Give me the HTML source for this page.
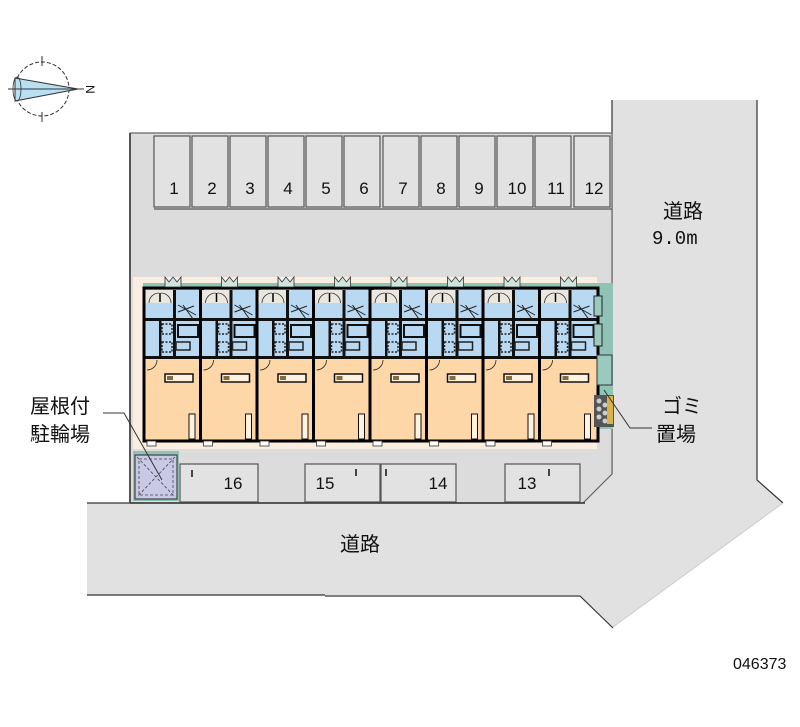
<!DOCTYPE html>
<html><head><meta charset="utf-8"><style>
html,body{margin:0;padding:0;background:#fff;width:800px;height:727px;overflow:hidden}
svg{display:block}
text{font-family:"Liberation Sans","Noto Sans CJK JP",sans-serif}
</style></head><body>
<svg width="800" height="727" viewBox="0 0 800 727" xmlns="http://www.w3.org/2000/svg">
<defs>
<g id="u">
  <rect x="0" y="290" width="56.5" height="150" fill="#fdd7a8"/>
  <rect x="0" y="290" width="56.5" height="13" fill="#eae6e0"/>
  <rect x="0" y="303" width="56.5" height="55" fill="#b9d9f2"/>
  <rect x="30" y="290" width="26.5" height="13" fill="#b9d9f2"/>
  <path d="M4 303 A10 10 0 0 1 14 293 M26 303 A10 10 0 0 0 16 293" fill="none" stroke="#333" stroke-width="0.8"/>
  <line x1="15" y1="293" x2="15" y2="302" stroke="#000" stroke-width="1.5"/>
  <rect x="0" y="318" width="56.5" height="3" fill="#111"/>
  <rect x="28" y="290" width="3" height="68" fill="#111"/>
  <rect x="0" y="356" width="56.5" height="3" fill="#111"/>
  <rect x="14" y="321" width="2.5" height="35" fill="#111"/>
  <path d="M33 305 l18 10 M33 312 l16 -6 M38 305 l10 14" stroke="#222" stroke-width="1" fill="none"/>
  <rect x="33" y="325" width="20" height="12" fill="none" stroke="#111" stroke-width="2"/>
  <rect x="17" y="324" width="10" height="10" fill="none" stroke="#222" stroke-width="1.5" stroke-dasharray="2 1.5"/>
  <rect x="17" y="342" width="10" height="10" fill="none" stroke="#222" stroke-width="1.5" stroke-dasharray="2 1.5"/>
  <rect x="31" y="342" width="14" height="8" fill="none" stroke="#222" stroke-width="1.5"/>
  <path d="M2 370 A10 10 0 0 0 12 360" fill="none" stroke="#222" stroke-width="0.8"/>
  <rect x="20" y="374" width="28" height="8" fill="#fff3e0" stroke="#111" stroke-width="1.5"/>
  <rect x="22" y="376" width="6" height="4" fill="#8a6a3a"/>
  <rect x="44" y="414" width="6" height="25" fill="#fff3e0" stroke="#111" stroke-width="1"/>
  <rect x="-1" y="288" width="58.5" height="153" fill="none" stroke="#000" stroke-width="3"/>
  <rect x="2" y="441" width="9" height="5" fill="#fff" stroke="#333" stroke-width="0.8"/>
  <path d="M20 277 l0 10 l16 0 l0 -10 l-4 5 l-4 -5 l-4 5 z" fill="#cfe6e0" stroke="#333" stroke-width="0.8"/>
</g>
</defs>

<polygon points="612,100 757,100 757,480 783,503 613,627 580,595 87,595 87,503 583,503 612,474" fill="#e1e1e1"/>
<path d="M612,100 L612,474 M757,100 L757,480 L783,503 M87,503 L130,503 M87,595 L325,595 M325,596 L580,596 L613,628" fill="none" stroke="#333" stroke-width="1.2"/>
<path d="M783,503 L613,627" stroke="#ccc" stroke-width="1"/>

<polygon points="130,133 612,133 612,474 583,503 130,503" fill="#dcdcdc" stroke="#666" stroke-width="1.2"/>
<line x1="130" y1="133" x2="130" y2="503" stroke="#555" stroke-width="2"/>
<line x1="130" y1="503" x2="585" y2="503" stroke="#333" stroke-width="1.5"/>
<rect x="133" y="277" width="464" height="172" fill="#fbeee0"/>

<g fill="#e2e2e2" stroke="#555" stroke-width="1.2">
<rect x="154" y="136" width="36" height="71"/><rect x="192" y="136" width="36" height="71"/><rect x="230" y="136" width="36" height="71"/><rect x="268" y="136" width="36" height="71"/><rect x="306" y="136" width="36" height="71"/><rect x="344" y="136" width="36" height="71"/><rect x="383" y="136" width="36" height="71"/><rect x="421" y="136" width="36" height="71"/><rect x="459" y="136" width="36" height="71"/><rect x="497" y="136" width="36" height="71"/><rect x="535" y="136" width="36" height="71"/><rect x="574" y="136" width="36" height="71"/>
</g>
<line x1="154" y1="209" x2="612" y2="209" stroke="#555" stroke-width="1.2"/>
<g font-size="17" fill="#111" text-anchor="middle">
<text x="174" y="194">1</text><text x="212" y="194">2</text><text x="250" y="194">3</text><text x="288" y="194">4</text><text x="326" y="194">5</text><text x="364" y="194">6</text><text x="403" y="194">7</text><text x="441" y="194">8</text><text x="479" y="194">9</text><text x="517" y="194">10</text><text x="556" y="194">11</text><text x="594" y="194">12</text>
</g>

<rect x="143" y="283" width="470" height="8" fill="#8fc3b5"/>
<rect x="595" y="291" width="18" height="138" fill="#8fc3b5"/>
<use href="#u" x="145"/><use href="#u" x="201.5"/><use href="#u" x="258"/><use href="#u" x="314.5"/><use href="#u" x="371"/><use href="#u" x="427.5"/><use href="#u" x="484"/><use href="#u" x="540.5"/>
<rect x="594" y="296" width="8" height="20" fill="#9cc9bd" stroke="#222" stroke-width="1"/>
<rect x="594" y="324" width="8" height="22" fill="#9cc9bd" stroke="#222" stroke-width="1"/>
<rect x="597" y="355" width="15" height="30" fill="#9cc9bd" stroke="#333" stroke-width="1"/>
<rect x="594" y="395" width="20" height="32" fill="#555"/>
<g fill="#ccc"><circle cx="599" cy="401" r="2.5"/><circle cx="599" cy="409" r="2.5"/><circle cx="599" cy="417" r="2.5"/><circle cx="605" cy="405" r="2.5"/><circle cx="605" cy="413" r="2.5"/><circle cx="605" cy="421" r="2.5"/></g>
<rect x="607" y="396" width="6" height="28" fill="#d9b24a"/>

<rect x="133" y="451" width="46" height="50" fill="#8fc3b5"/>
<rect x="135" y="455" width="42" height="44" fill="#c9c9e6" stroke="#444" stroke-width="1.2"/>
<path d="M137 457 L175 497 M175 457 L137 497" stroke="#444" stroke-width="0.8" stroke-dasharray="3 2"/>
<rect x="139" y="459" width="34" height="36" fill="none" stroke="#444" stroke-width="0.8" stroke-dasharray="3 2"/>

<g fill="#e2e2e2" stroke="#555" stroke-width="1.2">
<rect x="180" y="464" width="78" height="38"/><rect x="305" y="464" width="75" height="38"/><rect x="381" y="464" width="75" height="38"/><rect x="505" y="464" width="75" height="38"/>
</g>
<g stroke="#111" stroke-width="1.5"><line x1="192" y1="470" x2="192" y2="477"/><line x1="356" y1="469" x2="356" y2="476"/><line x1="386" y1="469" x2="386" y2="476"/><line x1="549" y1="469" x2="549" y2="476"/></g>
<g font-size="17" fill="#111" text-anchor="middle">
<text x="233" y="489">16</text><text x="325" y="489">15</text><text x="438" y="489">14</text><text x="527" y="489">13</text>
</g>

<g font-size="20" fill="#111">
<text x="663" y="218">道路</text>
<text x="652" y="244" style="font-family:'Liberation Mono',monospace;font-size:19px">9.0m</text>
<text x="340" y="551">道路</text>
<text x="30" y="413">屋根付</text><text x="30" y="441">駐輪場</text>
<text x="662" y="413">ゴミ</text><text x="656" y="441">置場</text>
</g>
<text x="733" y="669" font-size="16" fill="#111">046373</text>
<path d="M103 413 L124 413 L162 480" fill="none" stroke="#333" stroke-width="1"/>
<path d="M652 428 L630 428 L604 390" fill="none" stroke="#333" stroke-width="1"/>

<g>
<circle cx="42" cy="89" r="27" fill="none" stroke="#333" stroke-width="1" stroke-dasharray="4 2"/>
<polygon points="15,78 78,89 15,101" fill="#b9e0f2"/>
<polygon points="15,78 78,89 15,101" fill="none" stroke="#333" stroke-width="1"/>
<line x1="8" y1="89" x2="84" y2="89" stroke="#333" stroke-width="1"/>
<line x1="42" y1="56" x2="42" y2="66" stroke="#333"/><line x1="42" y1="112" x2="42" y2="122" stroke="#333"/>
<ellipse cx="17" cy="89" rx="4" ry="12" fill="none" stroke="#333" stroke-width="0.8"/>
<text x="86" y="95" font-size="12" fill="#111" transform="rotate(90 91 90)">N</text>
</g>
</svg>
</body></html>
